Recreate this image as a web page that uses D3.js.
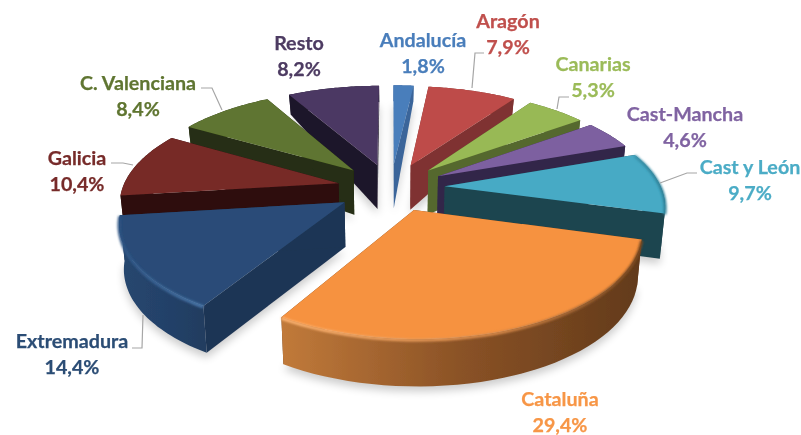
<!DOCTYPE html>
<html><head><meta charset="utf-8">
<script src="https://cdn.jsdelivr.net/npm/d3@7"></script>
<style>html,body{margin:0;padding:0;background:#fff}svg{display:block}
text{font-family:Lato,"Open Sans",sans-serif;font-weight:700;font-size:19.7px;text-anchor:middle;stroke-width:.25px}</style>
</head><body><svg id="c" width="801" height="435"></svg>
<script>
// Data
const categories = ["Andalucía","Aragón","Canarias","Cast-Mancha","Cast y León","Cataluña","Extremadura","Galicia","C. Valenciana","Resto"];
const shares = [1.8,7.9,5.3,4.6,9.7,29.4,14.4,10.4,8.4,8.2];
const shareLabels = ["1,8%","7,9%","5,3%","4,6%","9,7%","29,4%","14,4%","10,4%","8,4%","8,2%"];
// Styles
const topColors  = ["#4a7ebb","#be4b48","#98b954","#7d60a0","#46aac5","#f69240","#2a4c78","#772a28","#5f7530","#4c3963"];
const textColors = ["#4a7ebb","#c0504d","#9bbb59","#8064a2","#4bacc6","#f79646","#2c4d75","#772c2a","#5f7530","#4d3b62"];
const wallColors = ["#3a659a","#7f3230","#55682f","#33264a","#1e454f","#6b3f1c","#1f3554","#2e0f0e","#252f13","#1f172b"];
const rimFrom    = ["#3a659a","#7f3230","#55682f","#33264a","#1e454f","#c17a3a","#27476f","#2e0f0e","#252f13","#1f172b"];
const rimMid     = ["#3a659a","#7f3230","#55682f","#33264a","#1e454f","#8a5226","#24426a","#2e0f0e","#252f13","#1f172b"];
const rimTo      = ["#3a659a","#7f3230","#55682f","#33264a","#1e454f","#623a1a","#223d60","#2e0f0e","#252f13","#1f172b"];
const bevelFrom  = [null,null,null,null,"#3a93ab","#ffb573","#2e5484",null,null,null];
const bevelTo    = [null,null,null,null,"#2c7f96","#7a4a22","#4a78ab",null,null,null];
// Small per-slice placement corrections (pixels)
const sliceShift = [[-2,0],[0,0],[0,0],[0,0],[0,0],[1,0],[-4,2],[-4,1],[-4,0],[-3,0]];
// Layout of the labels and leader lines
const labelCenters = [[423,40],[508,21],[593,64],[685,114],[750,167],[560,399],[72,341],[77,158],[138,83],[299,43]];
const lineHeight = 26;
const leaders = [null,
  [[472,88],[475,53],[484,53]],
  [[557,109],[559,97],[569,97]],
  null,
  [[660,183],[687,173],[697,173]],
  null,
  [[143,315],[142,348],[132,348]],
  [[133,165],[123,163],[111,163]],
  [[222,110],[212,88],[201,88]],
  null];

// Projection of the tilted pie: plan coordinates (u right, v toward viewer)
const explode = 0.24, eyeDist = 6;
const xScale = d3.scaleLinear().domain([-1,1]).range([393-216,393+216]);
const yScale = d3.scaleLinear().domain([-1,1]).range([187-99,187+99]);
function project(u,v){ const w = 1/(1 - v/eyeDist); return [xScale(u*w), yScale(v*w)]; }
function planDepth(v){ return v >= -0.25 ? 44 + 3*(v+0.25)/1.3 : Math.max(14, 44 - 24*((-v-0.25)/0.85)); }

const arcs = d3.pie().sort(null).startAngle(0).endAngle(2*Math.PI)(shares);
const svg = d3.select("#c"), defs = svg.append("defs");
defs.append("filter").attr("id","sh").attr("x","-20%").attr("y","-20%").attr("width","140%").attr("height","140%")
  .append("feGaussianBlur").attr("stdDeviation",4.5);
defs.append("filter").attr("id","bv").attr("x","-20%").attr("y","-20%").attr("width","140%").attr("height","140%")
  .append("feGaussianBlur").attr("stdDeviation",1.1);
defs.append("filter").attr("id","soft").attr("x","-5%").attr("y","-5%").attr("width","110%").attr("height","110%")
  .append("feGaussianBlur").attr("stdDeviation",0.35);

const line = d3.line();
const inset = 0.018;
const slices = arcs.map((a,i)=>{
  const mid=(a.startAngle+a.endAngle)/2;
  const ox=explode*Math.sin(mid), oy=-explode*Math.cos(mid);
  const angs=d3.range(0,41).map(k=>a.startAngle+(a.endAngle-a.startAngle)*k/40);
  const plan=angs.map(t=>[ox+Math.sin(t), oy-Math.cos(t)]);
  const [dx,dy]=sliceShift[i];
  const move=p=>[p[0]+dx,p[1]+dy];
  const rawTop=plan.map(p=>project(p[0],p[1]));
  const top=rawTop.map(move);
  const bot=plan.map((p,k)=>{const q=rawTop[k];return move([q[0]+(393-q[0])*inset,q[1]+planDepth(p[1])]);});
  const a0=project(ox,oy);
  const apex=move(a0);
  const apexB=move([a0[0]+(393-a0[0])*inset,a0[1]+planDepth(oy)]);
  return {i,mid,ox,oy,top,bot,apex,apexB,order:oy};
});

// soft ground shadow
const shadow=svg.append("g").attr("filter","url(#sh)").attr("fill","#000").attr("opacity",0.2);
slices.forEach(s=>{
  shadow.append("path").attr("transform","translate(0,5)").attr("d",line([s.apexB,...s.bot])+"Z");
});

const sorted=slices.slice().sort((a,b)=>a.order-b.order);
sorted.forEach(s=>{
  const g=svg.append("g").attr("filter","url(#soft)"), i=s.i;
  const n=s.top.length-1;
  // radial walls
  g.append("path").attr("fill",wallColors[i]).attr("d",line([s.apex,s.top[0],s.bot[0],s.apexB])+"Z");
  g.append("path").attr("fill",wallColors[i]).attr("d",line([s.apex,s.top[n],s.bot[n],s.apexB])+"Z");
  // outer rim
  const gid="rim"+i, x0=d3.min(s.top,d=>d[0]), x1=d3.max(s.top,d=>d[0]);
  const lg=defs.append("linearGradient").attr("id",gid).attr("gradientUnits","userSpaceOnUse")
    .attr("x1",x0).attr("x2",x1).attr("y1",0).attr("y2",0);
  lg.append("stop").attr("offset",0).attr("stop-color",rimFrom[i]);
  lg.append("stop").attr("offset",0.5).attr("stop-color",rimMid[i]);
  lg.append("stop").attr("offset",1).attr("stop-color",rimTo[i]);
  g.append("path").attr("fill",`url(#${gid})`).attr("d",line([...s.top,...s.bot.slice().reverse()])+"Z");
  // top face
  g.append("path").attr("fill",topColors[i]).attr("d",line([s.apex,...s.top])+"Z");
  if(bevelFrom[i]){
    const bid="bev"+i, bg=defs.append("linearGradient").attr("id",bid).attr("gradientUnits","userSpaceOnUse")
      .attr("x1",x0).attr("x2",x1).attr("y1",0).attr("y2",0);
    bg.append("stop").attr("offset",0).attr("stop-color",bevelFrom[i]);
    bg.append("stop").attr("offset",0.6).attr("stop-color",i===5?"#d98a4a":d3.interpolateRgb(bevelFrom[i],bevelTo[i])(0.6));
    bg.append("stop").attr("offset",1).attr("stop-color",bevelTo[i]);
    g.append("path").attr("fill","none").attr("stroke",`url(#${bid})`).attr("stroke-width",3)
      .attr("filter","url(#bv)").attr("d",line(s.top.map(p=>[p[0],p[1]+1])));
  }
});

// leader lines
svg.append("g").selectAll("path").data(leaders.filter(Boolean)).join("path")
  .attr("d",d=>line(d)).attr("fill","none").attr("stroke","#a6a6a6").attr("stroke-width",1.2);

// labels
const lab=svg.append("g").attr("filter","url(#soft)");
categories.forEach((c,i)=>{
  const [x,y]=labelCenters[i];
  lab.append("text").attr("x",x).attr("y",y+6.5).attr("fill",textColors[i]).attr("stroke",textColors[i]).text(c);
  lab.append("text").attr("x",x).attr("y",y+6.5+lineHeight).attr("fill",textColors[i]).attr("stroke",textColors[i]).text(shareLabels[i]);
});
</script></body></html>
